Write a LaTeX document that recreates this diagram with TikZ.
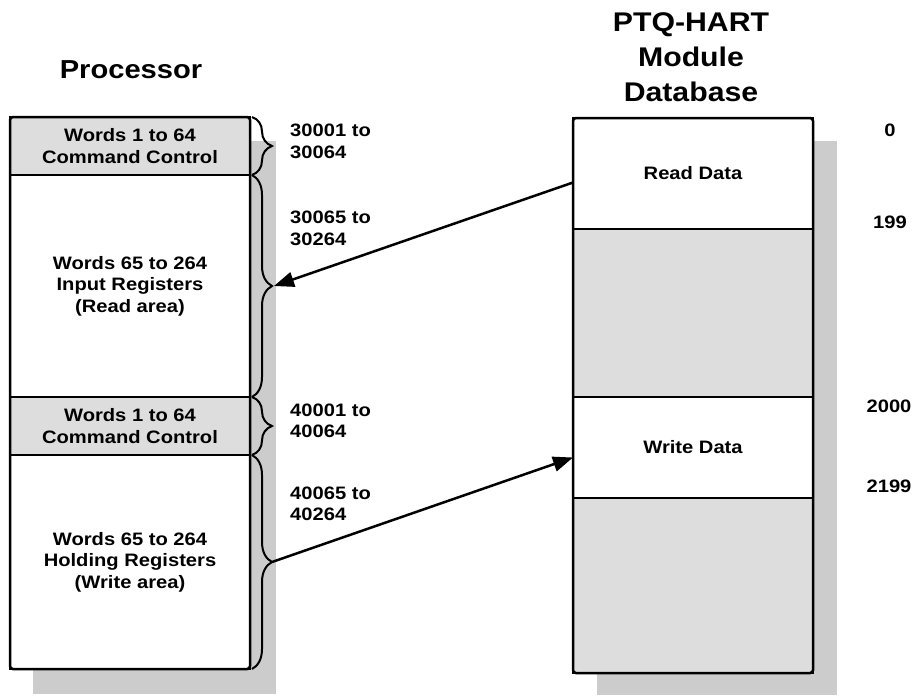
\documentclass[tikz,border=0pt]{standalone}
\usepackage{fontspec}
\setmainfont{Liberation Sans}[FakeStretch=1.12]
\usetikzlibrary{arrows.meta,decorations.pathreplacing}
\definecolor{rowgrey}{HTML}{DDDDDD}
\definecolor{shadowgrey}{HTML}{CCCCCC}
\tikzset{
  x=1pt, y=-1pt,
  row/.style={draw=black, line width=2.5pt, outer sep=0pt, inner sep=0pt,
    minimum width=240pt, align=center, font=\fontsize{18}{21.5}\selectfont\bfseries},
  greyrow/.style={row, fill=rowgrey},
  whiterow/.style={row, fill=white},
  bracestyle/.style={decorate, decoration={brace, amplitude=20pt, raise=2pt}, line width=2pt},
  arr/.style={line width=2.5pt, -{Triangle[length=20pt,width=15pt]}},
  lbl/.style={font=\fontsize{18}{21.5}\selectfont\bfseries, align=left, inner sep=0pt},
  addr/.style={font=\fontsize{18}{21.5}\selectfont\bfseries, inner sep=0pt},
  title/.style={font=\fontsize{27}{35}\selectfont\bfseries, align=center, inner sep=0pt},
}
\begin{document}
\begin{tikzpicture}
\useasboundingbox (0,0) rectangle (915,696);
% shadows
\fill[shadowgrey] (33,141) rectangle (276,694);
\fill[shadowgrey] (597,141) rectangle (837,695);
% left column
\node[greyrow, minimum height=58pt] (cc1) at (130,146) {Words 1 to 64\\Command Control};
\node[whiterow, minimum height=222pt] (ir) at (130,286) {Words 65 to 264\\Input Registers\\(Read area)};
\node[greyrow, minimum height=58pt] (cc2) at (130,426) {Words 1 to 64\\Command Control};
\node[whiterow, minimum height=214pt] (hr) at (130,562) {Words 65 to 264\\Holding Registers\\(Write area)};
\draw[line width=2.5pt, rounded corners=3pt] (cc1.north west) rectangle (hr.south east);
% right column
\node[whiterow, minimum height=111pt] (rd) at (693,173.5) {Read Data};
\node[greyrow, minimum height=168pt] (g1) at (693,313) {};
\node[whiterow, minimum height=101pt] (wd) at (693,447.5) {Write Data};
\node[greyrow, minimum height=175pt] (g2) at (693,585.5) {};
\draw[line width=2.5pt, rounded corners=3pt] (rd.north west) rectangle (g2.south east);
% braces
\draw[bracestyle] (cc1.north east) -- (cc1.south east);
\draw[bracestyle] (ir.north east) -- (ir.south east);
\draw[bracestyle] (cc2.north east) -- (cc2.south east);
\draw[bracestyle] (hr.north east) -- (hr.south east);
\coordinate (tip2) at ([xshift=24pt]ir.east);
\coordinate (tip4) at ([xshift=22pt]hr.east);
% arrows
\draw[arr] ([yshift=-9pt]rd.west) -- (tip2);
\draw[arr] (tip4) -- ([yshift=-10pt]wd.west);
% titles
\node[title, font=\fontsize{26}{35}\selectfont\bfseries] (ptitle) at (131,70) {Processor};
\node[title] (mtitle) at (691,57) {PTQ-HART\\Module\\Database};
% address labels
\node[lbl, anchor=west] (a1) at (290,141.5) {30001 to\\30064};
\node[lbl, anchor=west] (a2) at (290,228.5) {30065 to\\30264};
\node[lbl, anchor=west] (a3) at (290,421) {40001 to\\40064};
\node[lbl, anchor=west] (a4) at (290,504) {40065 to\\40264};
% database offsets
\node[addr] (o1) at (890,130) {0};
\node[addr] (o2) at (890,222) {199};
\node[addr] (o3) at (889,406) {2000};
\node[addr] (o4) at (889,486) {2199};
\end{tikzpicture}
\end{document}
